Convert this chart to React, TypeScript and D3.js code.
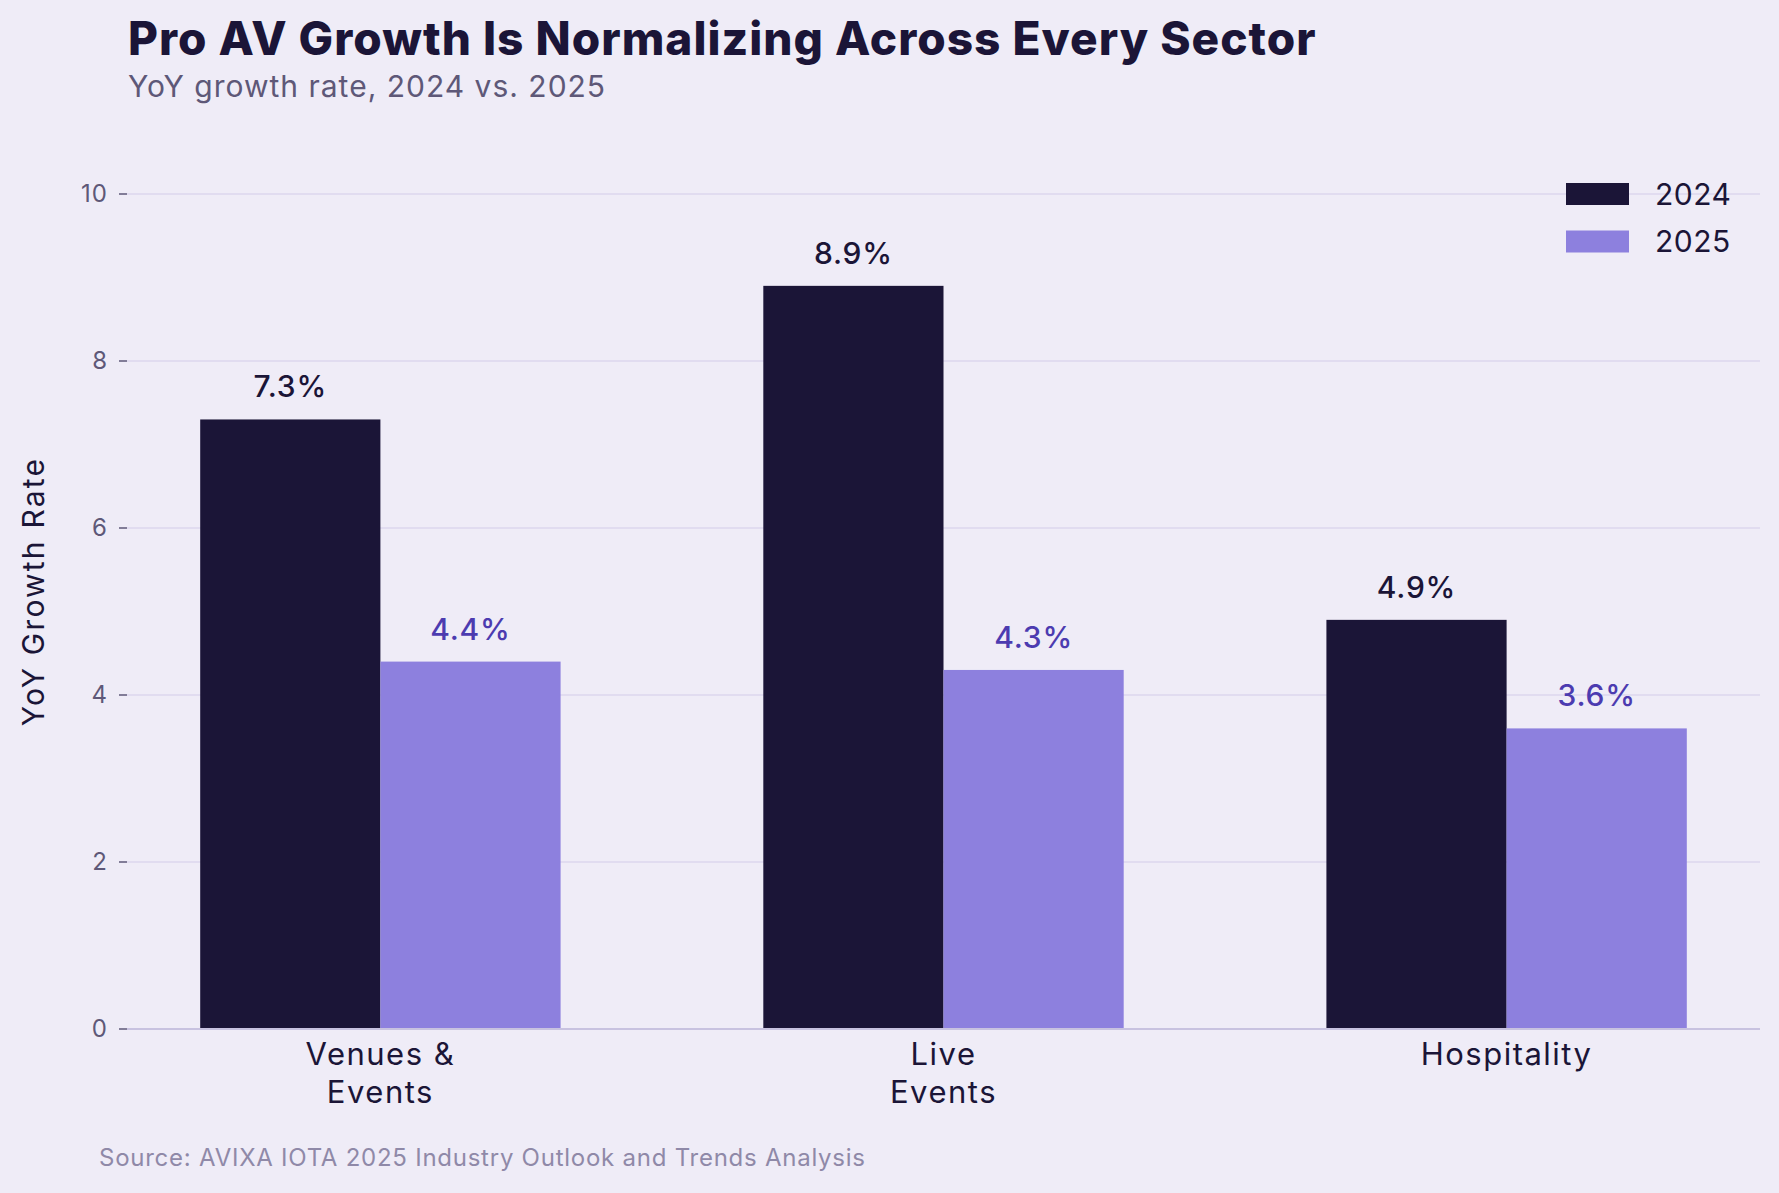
import React, { useRef, useEffect } from 'react';
import * as d3 from 'd3';

const categories = ['Venues &\nEvents', 'Live\nEvents', 'Hospitality'];
const seriesNames = ['2024', '2025'];
const values2024 = [7.3, 8.9, 4.9];
const values2025 = [4.4, 4.3, 3.6];
const yTicks = [0, 2, 4, 6, 8, 10];

const FONT = 'Inter, "Open Sans", sans-serif';

const App = () => {
    const chartRef = useRef<HTMLDivElement>(null);

    useEffect(() => {
        document.body.style.margin = '0';
        document.body.style.background = '#efecf7';

        const root = d3.select(chartRef.current);
        root.select('svg').remove();

        const width = 1779, height = 1193;
        const left = 127, right = 1760, top = 194, bottom = 1029;

        const svg = root.append('svg')
            .attr('width', width)
            .attr('height', height)
            .style('display', 'block')
            .style('font-family', FONT);

        svg.append('rect')
            .attr('width', width)
            .attr('height', height)
            .attr('fill', '#efecf7');

        const x = d3.scaleBand()
            .domain(categories)
            .range([left, right])
            .paddingInner(0.36)
            .paddingOuter(0.13);

        const xSub = d3.scaleBand()
            .domain(seriesNames)
            .range([0, x.bandwidth()]);

        const y = d3.scaleLinear()
            .domain([0, 10])
            .range([bottom, top]);

        const colors = { '2024': '#1b1537', '2025': '#8d80de' };
        const labelColors = { '2024': '#1b1537', '2025': '#4c3bb0' };

        // grid lines
        svg.append('g')
            .selectAll('line')
            .data(yTicks.filter(t => t > 0))
            .enter()
            .append('line')
            .attr('x1', left)
            .attr('x2', right)
            .attr('y1', d => y(d))
            .attr('y2', d => y(d))
            .attr('stroke', '#dcd7ee')
            .attr('stroke-width', 1.5);

        // y ticks
        const yAxis = svg.append('g');
        yAxis.selectAll('line')
            .data(yTicks)
            .enter()
            .append('line')
            .attr('x1', left - 8)
            .attr('x2', left)
            .attr('y1', d => y(d))
            .attr('y2', d => y(d))
            .attr('stroke', '#5e5878')
            .attr('stroke-width', 1.5);
        yAxis.selectAll('text')
            .data(yTicks)
            .enter()
            .append('text')
            .attr('x', left - 19)
            .attr('y', d => y(d))
            .attr('dy', '0.35em')
            .attr('text-anchor', 'end')
            .attr('fill', '#5e5878')
            .style('font-size', '24px')
            .style('letter-spacing', '1px')
            .text(d => d);

        svg.append('text')
            .attr('transform', `translate(44,${(top + bottom) / 2 - 20}) rotate(-90)`)
            .attr('text-anchor', 'middle')
            .attr('fill', '#1b1537')
            .style('font-size', '30px')
            .style('letter-spacing', '2.2px')
            .text('YoY Growth Rate');

        // bars
        const series = [
            { name: '2024', values: values2024 },
            { name: '2025', values: values2025 },
        ];
        series.forEach(s => {
            const g = svg.append('g');
            g.selectAll('rect')
                .data(s.values)
                .enter()
                .append('rect')
                .attr('x', (d, i) => x(categories[i])! + xSub(s.name)!)
                .attr('y', d => y(d))
                .attr('width', xSub.bandwidth())
                .attr('height', d => bottom - y(d))
                .attr('fill', colors[s.name]);
            g.selectAll('text')
                .data(s.values)
                .enter()
                .append('text')
                .attr('x', (d, i) => x(categories[i])! + xSub(s.name)! + xSub.bandwidth() / 2)
                .attr('y', d => y(d) - 22)
                .attr('text-anchor', 'middle')
                .attr('fill', labelColors[s.name])
                .style('font-size', '30px')
                .style('font-weight', 500)
                .style('letter-spacing', '0.8px')
                .text(d => `${d.toFixed(1)}%`);
        });

        // x axis line
        svg.append('line')
            .attr('x1', left)
            .attr('x2', right)
            .attr('y1', bottom)
            .attr('y2', bottom)
            .attr('stroke', '#c8c2e0')
            .attr('stroke-width', 2);

        // category labels
        const catLabels = svg.append('g')
            .selectAll('text')
            .data(categories)
            .enter()
            .append('text')
            .attr('text-anchor', 'middle')
            .attr('fill', '#1b1537')
            .style('font-size', '31px')
            .style('letter-spacing', '1.5px');
        catLabels.each(function (d) {
            const t = d3.select(this);
            d.split('\n').forEach((line, i) => {
                t.append('tspan')
                    .attr('x', x(d)! + x.bandwidth() / 2)
                    .attr('y', bottom + 36 + i * 38)
                    .text(line);
            });
        });

        // legend
        const legend = svg.append('g');
        seriesNames.forEach((name, i) => {
            legend.append('rect')
                .attr('x', 1566)
                .attr('y', 183 + i * 47.5)
                .attr('width', 63)
                .attr('height', 22)
                .attr('fill', colors[name]);
            legend.append('text')
                .attr('x', 1655)
                .attr('y', 194 + i * 47.5)
                .attr('dy', '0.35em')
                .attr('fill', '#1b1537')
                .style('font-size', '30px')
                .style('letter-spacing', '0.5px')
                .text(name);
        });

        // titles
        svg.append('text')
            .attr('x', 128)
            .attr('y', 55)
            .attr('fill', '#1b1537')
            .style('font-size', '46px')
            .style('font-weight', 800)
            .style('letter-spacing', '1px')
            .text('Pro AV Growth Is Normalizing Across Every Sector');

        svg.append('text')
            .attr('x', 128)
            .attr('y', 97)
            .attr('fill', '#5e5878')
            .style('font-size', '30px')
            .style('letter-spacing', '1px')
            .text('YoY growth rate, 2024 vs. 2025');

        svg.append('text')
            .attr('x', 99)
            .attr('y', 1166)
            .attr('fill', '#8f89a8')
            .style('font-size', '24px')
            .style('letter-spacing', '0.75px')
            .text('Source: AVIXA IOTA 2025 Industry Outlook and Trends Analysis');
    }, []);

    return <div ref={chartRef} />;
};

export default App;
